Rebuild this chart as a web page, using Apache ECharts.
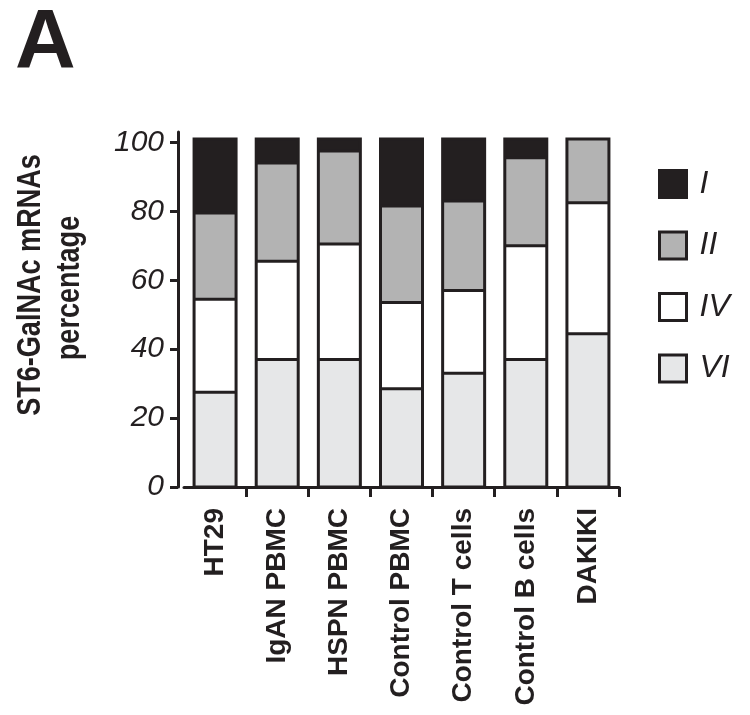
<!DOCTYPE html>
<html>
<head>
<meta charset="utf-8">
<script src="https://cdn.jsdelivr.net/npm/echarts@6/dist/echarts.min.js"></script>
<style>
html,body{margin:0;padding:0;background:#fff;}
#chart{width:750px;height:715px;}
</style>
</head>
<body>
<div id="chart"></div>
<script>
var categories = ['HT29', 'IgAN PBMC', 'HSPN PBMC', 'Control PBMC', 'Control T cells', 'Control B cells', 'DAKIKI'];
var valuesVI = [27.5, 37, 37, 28.5, 33, 37, 44.5];
var valuesIV = [27, 28.5, 33.5, 25, 24, 33, 38];
var valuesII = [25, 28.5, 27, 28, 26, 25.5, 18.5];
var valuesI = [21.5, 7, 3.5, 19.5, 18, 5.5, 0];
var yTicks = [0, 20, 40, 60, 80, 100];
var legendOrder = ['I', 'II', 'IV', 'VI'];

var ink = '#231f20';
var font = '"Liberation Sans", Arial, Helvetica, sans-serif';

function barSeries(name, data, color) {
  return {
    name: name,
    type: 'bar',
    stack: 'total',
    data: data,
    barWidth: 42,
    clip: false,
    itemStyle: { color: color, borderWidth: 0 },
    emphasis: { disabled: true },
    z: 2
  };
}

// outline + divider data built from the series arrays
var outlineData = categories.map(function (c, i) {
  return [i, valuesVI[i], valuesIV[i], valuesII[i], valuesI[i]];
});

function renderOutline(params, api) {
  var idx = api.value(0);
  var segs = [api.value(1), api.value(2), api.value(3), api.value(4)];
  var total = 0;
  segs.forEach(function (v) { total += v; });
  var half = 21;
  var base = api.coord([idx, 0]);
  var top = api.coord([idx, total]);
  var cx = base[0];
  var children = [{
    type: 'rect',
    shape: { x: cx - half, y: top[1], width: half * 2, height: base[1] - top[1] },
    style: { fill: 'none', stroke: ink, lineWidth: 3 }
  }];
  var cum = 0;
  for (var k = 0; k < segs.length - 1; k++) {
    cum += segs[k];
    if (segs[k] > 0 && cum < total - 1e-6) {
      var p = api.coord([idx, cum]);
      children.push({
        type: 'line',
        shape: { x1: cx - half, y1: p[1], x2: cx + half, y2: p[1] },
        style: { stroke: ink, lineWidth: 3 }
      });
    }
  }
  return { type: 'group', children: children };
}

var chart = echarts.init(document.getElementById('chart'), null, { renderer: 'canvas' });
chart.setOption({
  animation: false,
  backgroundColor: '#fff',
  title: {
    text: 'A',
    left: 10,
    top: -2,
    textStyle: { fontFamily: font, fontWeight: 'bold', fontSize: 84, color: ink }
  },
  graphic: [
    {
      type: 'text',
      x: 31, y: 285,
      rotation: Math.PI / 2,
      scaleX: 0.82,
      style: {
        text: 'ST6-GalNAc mRNAs',
        font: 'bold 33px ' + font,
        fill: ink,
        align: 'center',
        verticalAlign: 'middle'
      }
    },
    {
      type: 'text',
      x: 70, y: 288,
      rotation: Math.PI / 2,
      scaleX: 0.82,
      style: {
        text: 'percentage',
        font: 'bold 33px ' + font,
        fill: ink,
        align: 'center',
        verticalAlign: 'middle'
      }
    }
  ],
  legend: {
    orient: 'vertical',
    left: 653,
    top: 163,
    itemWidth: 27,
    itemHeight: 27,
    itemGap: 29.5,
    icon: 'rect',
    data: legendOrder,
    selectedMode: false,
    itemStyle: { borderColor: ink, borderWidth: 3 },
    textStyle: { fontFamily: font, fontStyle: 'italic', fontSize: 32, color: ink, padding: [0, 0, 0, 8] }
  },
  grid: { left: 184, right: 131, top: 132, bottom: 228, containLabel: false, outerBoundsMode: 'none' },
  xAxis: {
    type: 'category',
    data: categories,
    offset: 9,
    axisLine: { lineStyle: { color: ink, width: 3 } },
    axisTick: { show: true, length: 10, lineStyle: { color: ink, width: 3 },
      interval: function (i) { return i !== 0; } },
    axisLabel: {
      rotate: 90,
      margin: 12,
      interval: 0,
      fontFamily: font,
      fontWeight: 'bold',
      fontSize: 28,
      color: ink
    },
    splitLine: { show: false }
  },
  yAxis: {
    type: 'value',
    min: 0,
    max: 103,
    offset: 6,
    axisLine: { show: true, lineStyle: { color: ink, width: 3 } },
    axisTick: { show: true, length: 8, lineStyle: { color: ink, width: 3 }, customValues: yTicks },
    axisLabel: {
      customValues: yTicks,
      margin: 14,
      fontFamily: font,
      fontStyle: 'italic',
      fontSize: 30,
      color: ink
    },
    splitLine: { show: false }
  },
  series: [
    barSeries('VI', valuesVI, '#e6e7e8'),
    barSeries('IV', valuesIV, '#ffffff'),
    barSeries('II', valuesII, '#b3b3b3'),
    barSeries('I', valuesI, ink),
    {
      name: 'outline',
      type: 'custom',
      data: outlineData,
      renderItem: renderOutline,
      clip: false,
      silent: true,
      z: 5
    }
  ]
});
</script>
</body>
</html>
